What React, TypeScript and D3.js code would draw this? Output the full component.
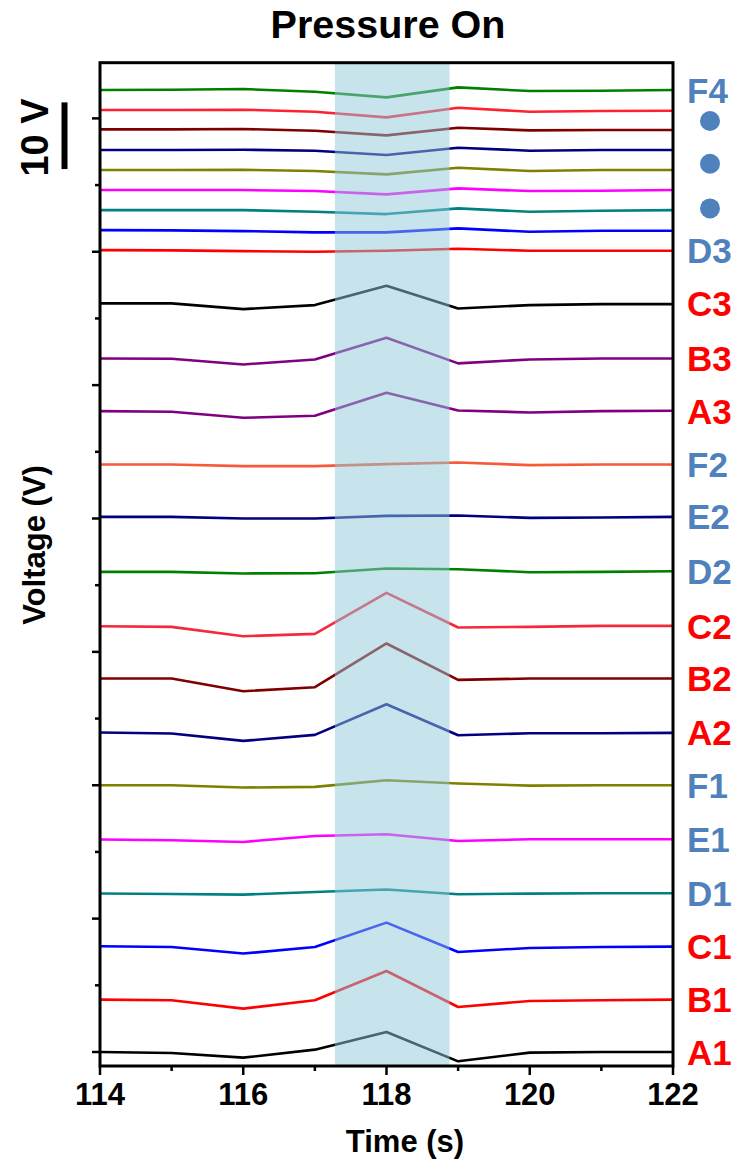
import React from "react";
import * as d3 from "d3";

const times = [114, 115, 116, 117, 118, 119, 120, 121, 122];
const xTickLabels = [114, 116, 118, 120, 122];

const seriesNames = [
  "A1", "B1", "C1", "D1", "E1", "F1",
  "A2", "B2", "C2", "D2", "E2", "F2",
  "A3", "B3", "C3", "D3", "E3", "F3",
  "A4", "B4", "C4", "D4", "E4", "F4",
];

const seriesColors = [
  "#000000", "#ff0000", "#0000ff", "#008080", "#ff00ff", "#808000",
  "#000080", "#800000", "#f42a3c", "#008000", "#000080", "#f55a3a",
  "#800080", "#800080", "#000000", "#ff0000", "#0000ff", "#008080",
  "#ff00ff", "#808000", "#000080", "#800000", "#ff2030", "#008000",
];

const A1 = [0, -0.15, -0.85, 0.35, 3.0, -1.4, -0.1, 0, 0];
const B1 = [7.86, 7.75, 6.5, 7.75, 12.15, 6.75, 7.65, 7.75, 7.86];
const C1 = [15.85, 15.75, 14.76, 15.75, 19.4, 15.0, 15.6, 15.75, 15.8];
const D1 = [23.76, 23.7, 23.6, 24.0, 24.36, 23.65, 23.75, 23.8, 23.8];
const E1 = [31.86, 31.75, 31.5, 32.4, 32.65, 31.65, 31.9, 31.9, 31.9];
const F1 = [40.0, 40.0, 39.66, 39.75, 40.76, 40.26, 39.95, 40.0, 40.0];
const A2 = [47.9, 47.75, 46.65, 47.55, 52.15, 47.5, 47.8, 47.8, 47.85];
const B2 = [56.0, 56.0, 54.1, 54.7, 61.26, 55.8, 56.0, 56.0, 56.0];
const C2 = [63.85, 63.75, 62.35, 62.7, 68.85, 63.65, 63.75, 63.9, 63.9];
const D2 = [72.0, 72.0, 71.76, 71.8, 72.5, 72.4, 71.95, 72.0, 72.1];
const E2 = [80.25, 80.25, 80.0, 80.0, 80.4, 80.45, 80.1, 80.15, 80.25];
const F2 = [88.1, 88.1, 87.85, 87.85, 88.15, 88.4, 88.0, 88.1, 88.1];
const A3 = [96.1, 96.0, 95.1, 95.4, 98.85, 96.2, 95.9, 96.1, 96.15];
const B3 = [104.0, 103.95, 103.1, 103.85, 107.1, 103.26, 103.85, 104.0, 104.0];
const C3 = [112.26, 112.26, 111.4, 112.0, 114.9, 111.5, 112.0, 112.15, 112.15];
const D3 = [120.25, 120.2, 120.1, 120.0, 120.15, 120.45, 120.15, 120.15, 120.15];
const E3 = [123.25, 123.2, 123.1, 122.9, 122.9, 123.5, 123.0, 123.15, 123.15];
const F3 = [126.25, 126.25, 126.25, 126.0, 125.65, 126.5, 126.0, 126.15, 126.25];
const A4 = [129.25, 129.25, 129.25, 129.1, 128.6, 129.5, 129.1, 129.15, 129.25];
const B4 = [132.25, 132.25, 132.3, 132.1, 131.6, 132.6, 132.1, 132.25, 132.25];
const C4 = [135.25, 135.25, 135.3, 135.15, 134.5, 135.6, 135.15, 135.25, 135.25];
const D4 = [138.35, 138.35, 138.4, 138.15, 137.45, 138.6, 138.2, 138.25, 138.25];
const E4 = [141.25, 141.25, 141.3, 141.0, 140.15, 141.6, 141.0, 141.1, 141.15];
const F4 = [144.25, 144.3, 144.4, 144.0, 143.15, 144.65, 144.1, 144.15, 144.25];

const seriesValues = [
  A1, B1, C1, D1, E1, F1, A2, B2, C2, D2, E2, F2,
  A3, B3, C3, D3, E3, F3, A4, B4, C4, D4, E4, F4,
];

const rightLabels = [
  "A1", "B1", "C1", "D1", "E1", "F1",
  "A2", "B2", "C2", "D2", "E2", "F2",
  "A3", "B3", "C3", "D3", "F4",
];
const dotValues = [139.6, 133.2, 126.5];
const bandRange = [117.28, 118.88];

const W = 740;
const H = 1162;
const left = 100;
const right = 673;
const top = 62.7;
const bottom = 1066;

const FONT = "'Liberation Sans', Arial, Helvetica, sans-serif";
const RED = "#ff0000";
const BLUE = "#4f81bd";

export default function App() {
  const x = d3.scaleLinear().domain([114, 122]).range([left, right]);
  const y = d3.scaleLinear().domain([-2.1, 148.35]).range([bottom, top]);
  const line = d3
    .line<number>()
    .x((_, i) => x(times[i]))
    .y((v) => y(v));

  const xMinor = d3.range(114, 123, 1);
  const yTicks = d3.range(0, 141, 10);

  return (
    <div style={{ position: "absolute", left: 0, top: 0 }}>
      <svg width={W} height={H} style={{ display: "block", background: "#fff" }} fontFamily={FONT}>
        <rect x={0} y={0} width={W} height={H} fill="#ffffff" />
        {/* traces */}
        {seriesValues.map((vals, i) => (
          <path
            key={seriesNames[i]}
            d={line(vals) || ""}
            fill="none"
            stroke={seriesColors[i]}
            strokeWidth={2.6}
            strokeLinejoin="round"
          />
        ))}
        {/* band overlay */}
        <rect
          x={x(bandRange[0])}
          y={top}
          width={x(bandRange[1]) - x(bandRange[0])}
          height={bottom - top}
          fill="#90c8da"
          opacity={0.5}
        />
        {/* frame */}
        <rect x={left} y={top} width={right - left} height={bottom - top} fill="none" stroke="#000" strokeWidth={3} />
        {/* x ticks */}
        {xMinor.map((t) => (
          <line
            key={"xt" + t}
            x1={x(t)}
            x2={x(t)}
            y1={bottom}
            y2={bottom + (t % 2 === 0 ? 9 : 5)}
            stroke="#000"
            strokeWidth={2.5}
          />
        ))}
        {xTickLabels.map((t) => (
          <text
            key={"xl" + t}
            x={x(t)}
            y={1105}
            textAnchor="middle"
            fontSize={31}
            fontWeight="bold"
            fill="#000"
          >
            {t}
          </text>
        ))}
        {/* y ticks */}
        {yTicks.map((t) => (
          <line
            key={"yt" + t}
            x1={left}
            x2={left - (t % 20 === 0 ? 8 : 5)}
            y1={y(t)}
            y2={y(t)}
            stroke="#000"
            strokeWidth={2.5}
          />
        ))}
        {/* title */}
        <text x={388} y={38} textAnchor="middle" fontSize={39.5} fontWeight="bold" fill="#000">
          Pressure On
        </text>
        {/* axis titles */}
        <text x={405} y={1152} textAnchor="middle" fontSize={31} fontWeight="bold" fill="#000">
          Time (s)
        </text>
        <text
          transform={`translate(45, 545) rotate(-90)`}
          textAnchor="middle"
          fontSize={31}
          fontWeight="bold"
          fill="#000"
        >
          Voltage (V)
        </text>
        {/* scale bar */}
        <text
          transform={`translate(48, 137.5) rotate(-90)`}
          textAnchor="middle"
          fontSize={38}
          fontWeight="bold"
          fill="#000"
        >
          10 V
        </text>
        <line x1={64.5} x2={64.5} y1={y(142.4)} y2={y(132.4)} stroke="#000" strokeWidth={6} />
        {/* right labels */}
        {rightLabels.map((name) => {
          const idx = seriesNames.indexOf(name);
          const letter = name[0];
          const color = letter === "A" || letter === "B" || letter === "C" ? RED : BLUE;
          return (
            <text
              key={"rl" + name}
              x={687}
              y={y(seriesValues[idx][0])}
              dy="0.36em"
              fontSize={35}
              fontWeight="bold"
              fill={color}
            >
              {name}
            </text>
          );
        })}
        {dotValues.map((v, i) => (
          <circle key={"dot" + i} cx={710} cy={y(v)} r={10} fill={BLUE} />
        ))}
      </svg>
    </div>
  );
}
